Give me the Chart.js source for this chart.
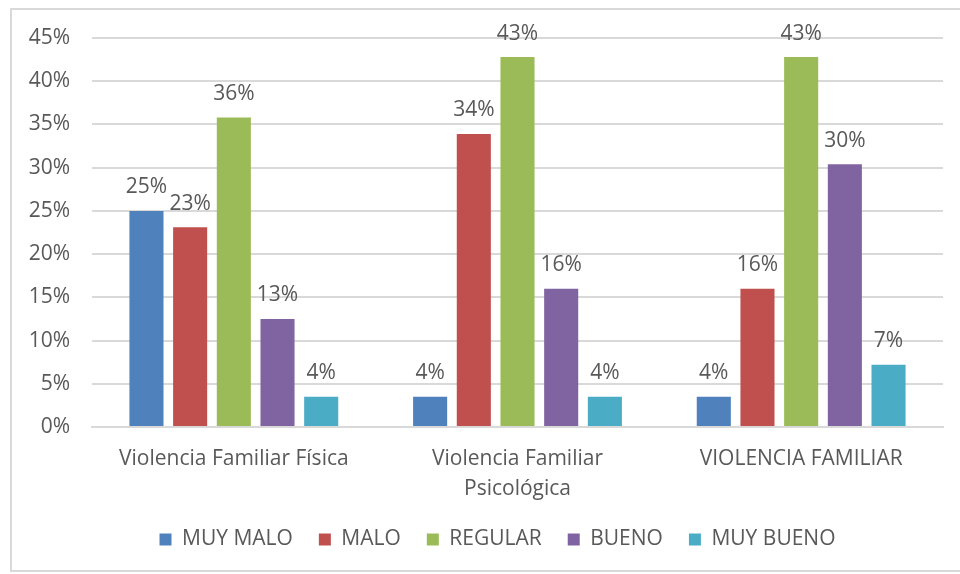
<!DOCTYPE html>
<html>
<head>
<meta charset="utf-8">
<script src="https://cdn.jsdelivr.net/npm/chart.js@4"></script>
<style>
  html, body { margin: 0; padding: 0; background: #ffffff; }
  #wrap { width: 960px; height: 574px; position: relative; }
</style>
</head>
<body>
<div id="wrap"><canvas id="chart" width="960" height="574"></canvas></div>
<script>
// ---- data ----
const categories = ['Violencia Familiar Física', ['Violencia Familiar', 'Psicológica'], 'VIOLENCIA FAMILIAR'];
const seriesNames = ['MUY MALO', 'MALO', 'REGULAR', 'BUENO', 'MUY BUENO'];
const muyMalo = [25.0, 3.5, 3.5];
const malo = [23.1, 33.9, 16.0];
const regular = [35.8, 42.8, 42.8];
const bueno = [12.5, 16.0, 30.4];
const muyBueno = [3.5, 3.5, 7.2];
const yTicks = [0, 5, 10, 15, 20, 25, 30, 35, 40, 45];

const colors = ['#4f81bd', '#c0504d', '#9bbb59', '#8064a2', '#4bacc6'];
const textColor = '#595959';
const fontFamily = '"Open Sans", "DejaVu Sans", sans-serif';

// frame around the chart
const framePlugin = {
    id: 'frame',
    beforeDraw(chart) {
        const c = chart.ctx;
        c.save();
        c.fillStyle = '#ffffff';
        c.fillRect(0, 0, chart.width, chart.height);
        c.strokeStyle = '#d9d9d9';
        c.lineWidth = 2;
        c.strokeRect(11, 9, 960, 562);
        c.restore();
    }
};

// nudge the legend a bit to the right, like the original
const legendShift = {
    id: 'legendShift',
    afterLayout(chart) {
        if (chart.legend) {
            chart.legend.left += 26;
            chart.legend.right += 26;
        }
    }
};

// value labels above bars
const valueLabels = {
    id: 'valueLabels',
    afterDatasetsDraw(chart) {
        const c = chart.ctx;
        c.save();
        c.font = '21px ' + fontFamily;
        c.fillStyle = textColor;
        c.textAlign = 'center';
        c.textBaseline = 'bottom';
        chart.data.datasets.forEach((ds, i) => {
            chart.getDatasetMeta(i).data.forEach((bar, j) => {
                c.fillText(Math.round(ds.data[j]) + '%', bar.x, bar.y - 13);
            });
        });
        c.restore();
    }
};

const seriesData = [muyMalo, malo, regular, bueno, muyBueno];

new Chart(document.getElementById('chart'), {
    type: 'bar',
    data: {
        labels: categories,
        datasets: seriesNames.map((name, i) => ({
            label: name,
            data: seriesData[i],
            backgroundColor: colors[i],
            borderWidth: 0,
            categoryPercentage: 0.77,
            barPercentage: 0.78
        }))
    },
    options: {
        responsive: false,
        animation: false,
        layout: { padding: { top: 38, right: 17, left: 0, bottom: 14 } },
        plugins: {
            legend: {
                position: 'bottom',
                labels: {
                    color: textColor,
                    font: { size: 21, family: fontFamily },
                    boxWidth: 12,
                    boxHeight: 12,
                    padding: 26
                }
            },
            tooltip: { enabled: false }
        },
        scales: {
            x: {
                grid: { display: false, drawTicks: false },
                border: { color: '#d9d9d9', width: 2 },
                ticks: {
                    color: textColor,
                    font: { size: 21, family: fontFamily, lineHeight: 1.43 },
                    maxRotation: 0,
                    padding: 17
                },
                afterFit(scale) { scale.height = 76; }
            },
            y: {
                min: 0,
                max: 45,
                afterBuildTicks(scale) { scale.ticks = yTicks.map(v => ({ value: v })); },
                grid: { color: '#d9d9d9', lineWidth: 2, drawTicks: false },
                border: { display: false },
                ticks: {
                    color: textColor,
                    font: { size: 21, family: fontFamily },
                    padding: 22,
                    callback: v => v + '%'
                },
                afterFit(scale) { scale.width = 92; }
            }
        }
    },
    plugins: [framePlugin, legendShift, valueLabels]
});
</script>
</body>
</html>
